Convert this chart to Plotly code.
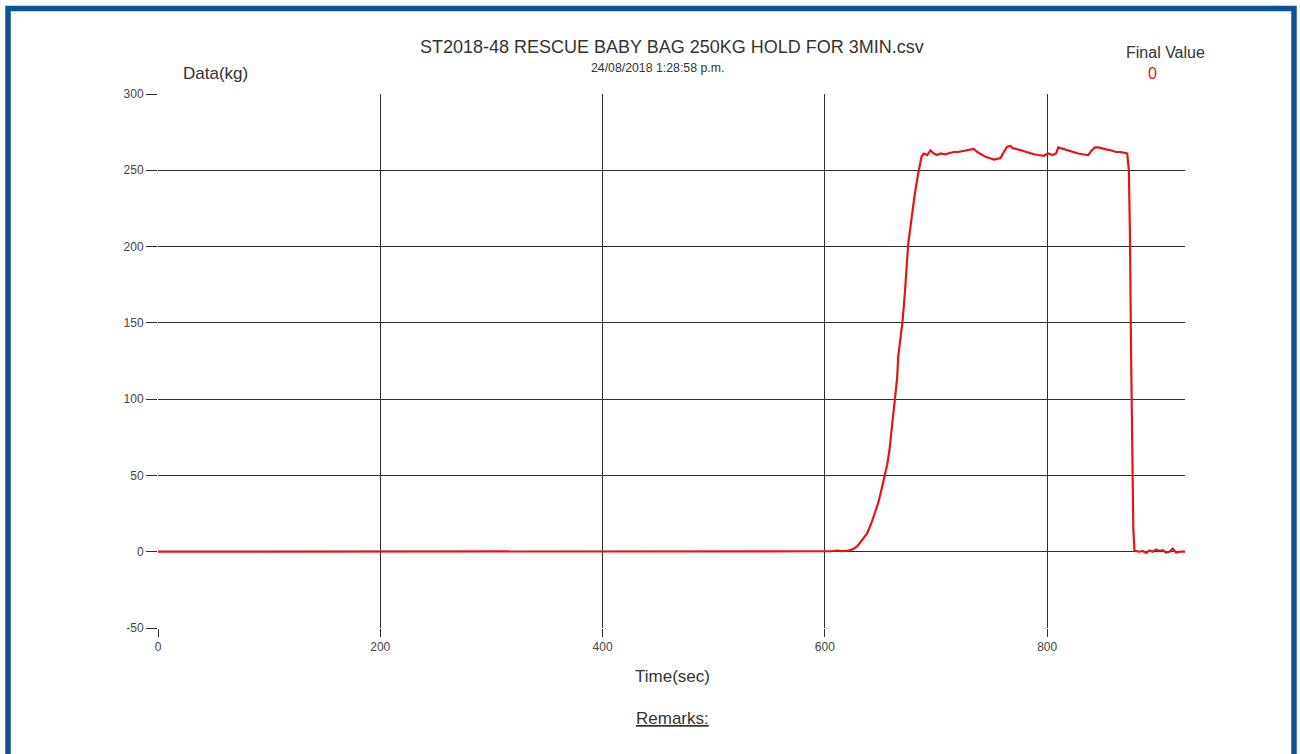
import plotly.graph_objects as go

# ---- data ----
time_sec = [0, 600, 605, 611, 615, 620, 625, 629, 633, 638, 642, 645, 648, 651, 654, 656,
            658, 660, 662, 663, 665, 666, 668, 670, 672, 674, 675, 677, 679, 681, 684, 687,
            689, 692, 695, 698, 701, 704, 708, 712, 716, 720, 724, 728, 731, 734, 737, 740,
            744, 748, 752, 755, 758, 761, 764, 767, 769, 772, 776, 780, 784, 788, 792, 797,
            801, 805, 808, 810, 812, 816, 820, 824, 828, 832, 837, 840, 843, 846, 850, 854,
            858, 862, 866, 870, 872, 873.5, 874.5, 875.5, 876.5, 877.5, 878.5, 879.5, 883,
            886, 889, 892, 895, 898, 901, 904, 907, 910, 913, 916, 920, 924]
data_kg = [0, 0, 0.3, 0.8, 0.4, 0.5, 1.5, 3.5, 7, 12, 19, 25, 32, 41, 50, 57,
           66, 78, 90, 100, 114, 128, 140, 152, 170, 190, 202, 213, 226, 235, 248, 259,
           261, 260, 263, 261, 260, 261, 260.5, 261.5, 262, 262, 262.5, 263, 263.5, 264, 262, 260.5,
           259, 258, 257, 257.5, 258, 262, 265.5, 266, 264.5, 264, 263, 262, 261, 260.5, 260, 259.5,
           261, 260, 261, 265, 264.5, 263.5, 262.5, 262, 261, 260.5, 260, 263, 265, 265, 264, 263.5,
           263, 262, 262, 261.5, 261, 250, 206, 130, 58, 15, 1, 0.5, 0,
           0.5, -0.8, 0.8, 0, 1.5, 0.5, 1, -0.5, 0, 2, -0.5, 0, 0]

x_ticks = [0, 200, 400, 600, 800]
y_ticks = [-50, 0, 50, 100, 150, 200, 250, 300]
y_tick_labels = ["-50", "0", "50", "100", "150", "200", "250", "300"]

title_text = "ST2018-48 RESCUE BABY BAG 250KG HOLD FOR 3MIN.csv"
subtitle_text = "24/08/2018 1:28:58 p.m."
final_value = "0"

# ---- layout geometry (pixels) ----
W, H = 1300, 754
L, R, T, B = 158, 1185, 94, 628


def px(x):
    return (x - L) / (R - L)


def py(y):
    return (B - y) / (B - T)


FONT = "Liberation Sans, Arial, sans-serif"
TXT = "#333333"
GRID = "#2e2e2e"

fig = go.Figure()
fig.add_trace(go.Scatter(x=time_sec, y=data_kg, mode="lines",
                         line=dict(color="#e3141b", width=2.2), hoverinfo="x+y",
                         showlegend=False))

fig.update_layout(
    width=W, height=H,
    margin=dict(l=L, r=W - R, t=T, b=H - B, pad=0),
    paper_bgcolor="white", plot_bgcolor="white",
    font=dict(family=FONT, color=TXT, size=12),
    xaxis=dict(range=[0, 924], tickvals=x_ticks, showgrid=True, gridcolor=GRID,
               gridwidth=1.3, zeroline=False, showline=False, ticks="outside",
               ticklen=8, tickwidth=1.3, tickcolor=GRID,
               tickfont=dict(size=12, color="#444444")),
    yaxis=dict(range=[-50, 300], tickvals=y_ticks, ticktext=y_tick_labels,
               showgrid=True, gridcolor=GRID,
               gridwidth=1.3, zeroline=False, showline=False, ticks="outside",
               ticklen=11, tickwidth=1.3, tickcolor=GRID,
               tickfont=dict(size=12, color="#444444")),
)

annotations = [
    dict(text=title_text, x=px(672), y=py(47), font=dict(size=18, color=TXT)),
    dict(text=subtitle_text, x=px(657), y=py(68), font=dict(size=12.3, color=TXT)),
    dict(text="Data(kg)", x=px(215), y=py(73), font=dict(size=17, color=TXT)),
    dict(text="Final Value", x=px(1165), y=py(53), font=dict(size=16, color=TXT)),
    dict(text=final_value, x=px(1152), y=py(73), font=dict(size=16, color="#e3141b")),
    dict(text="Time(sec)", x=px(672), y=py(676), font=dict(size=17, color=TXT)),
    dict(text="<u>Remarks:</u>", x=px(672), y=py(718), font=dict(size=17, color=TXT)),
]
for a in annotations:
    a.update(xref="paper", yref="paper", showarrow=False, xanchor="center", yanchor="middle")
fig.update_layout(annotations=annotations)

# blue frame (open at the bottom)
fig.add_shape(type="path", xref="paper", yref="paper",
              path=f"M {px(8)} {py(770)} L {px(8)} {py(8.5)} L {px(1294)} {py(8.5)} L {px(1294)} {py(770)}",
              line=dict(color="#0d5299", width=5.5), layer="above")

fig.write_html("out.html", config={"displayModeBar": False},
               post_script="document.body.style.margin='0';document.body.style.overflow='hidden';")
